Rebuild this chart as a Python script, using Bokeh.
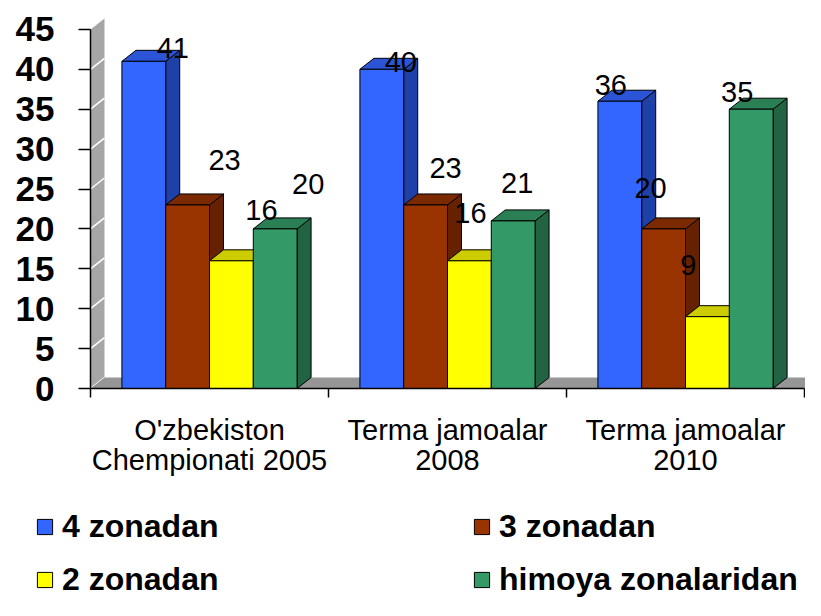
from bokeh.plotting import figure
from bokeh.models import Range1d, FixedTicker, Legend, LegendItem, ColumnDataSource
from bokeh.core.properties import value
from bokeh.embed import file_html
from bokeh.resources import INLINE

# ---------------- data ----------------
categories = ["O'zbekiston\nChempionati 2005", "Terma jamoalar\n2008", "Terma jamoalar\n2010"]
series_names = ["4 zonadan", "3 zonadan", "2 zonadan", "himoya zonalaridan"]
zone4 = [41, 40, 36]
zone3 = [23, 23, 20]
zone2 = [16, 16, 9]
defence = [20, 21, 35]
y_ticks = [0, 5, 10, 15, 20, 25, 30, 35, 40, 45]

series_values = [zone4, zone3, zone2, defence]

# ---------------- style ----------------
front_colors = ["#3366FF", "#993300", "#FFFF00", "#339966"]
top_colors = ["#2B55D6", "#7A2900", "#CCCC00", "#2A7F55"]
side_colors = ["#1F40A6", "#662200", "#999900", "#216343"]

# data-label nudges in screen pixels (Excel-like 3D label placement)
nudge_x = [[29, 19, -9], [37, 20, -13], [30, 1, -19], [33, 4, -14]]
nudge_y = [[-13, -7, -16], [-45, -37, -41], [-51, -48, -52], [-45, -38, -17]]

W, H = 805, 600
CAT_PX = 238.0
LEFT_PX = 90.0
UNIT_PX = 7.98
ZERO_PX = 388.0
FONT = "Liberation Sans"

p = figure(width=W, height=H,
           x_range=Range1d(-LEFT_PX / CAT_PX, (W - LEFT_PX) / CAT_PX),
           y_range=Range1d(-(H - ZERO_PX) / UNIT_PX, ZERO_PX / UNIT_PX),
           output_backend="svg", toolbar_location=None, min_border=0,
           outline_line_color=None, background_fill_color="white")
p.xgrid.visible = False
p.ygrid.visible = False

n_cat = len(categories)
ymax = y_ticks[-1]
dx = 14.0 / CAT_PX
dy = 11.0 / UNIT_PX
bw = 0.184

# side wall and floor
p.patch([0, dx, dx, 0], [0, dy, ymax + dy, ymax], fill_color="#A6A6A6", line_color=None)
p.segment(x0=[0] * (len(y_ticks) - 1), y0=y_ticks[:-1],
          x1=[dx] * (len(y_ticks) - 1), y1=[t + dy for t in y_ticks[:-1]],
          line_color="white", line_width=1.5)
p.patch([0, n_cat, n_cat + dx, dx], [0, 0, dy, dy], fill_color="#969696", line_color=None)

bar_renderers = []
lx, ly, lt, lxo, lyo = [], [], [], [], []
for s, vals in enumerate(series_values):
    xc = [i + 0.5 + (s - 1.5) * bw for i in range(n_cat)]
    x0 = [c - bw / 2 for c in xc]
    x1 = [c + bw / 2 for c in xc]
    side_xs = [[b, b + dx, b + dx, b] for b in x1]
    side_ys = [[0, dy, v + dy, v] for v in vals]
    top_xs = [[a, b, b + dx, a + dx] for a, b in zip(x0, x1)]
    top_ys = [[v, v, v + dy, v + dy] for v in vals]
    p.patches(side_xs, side_ys, fill_color=side_colors[s], line_color="black", line_width=1)
    p.patches(top_xs, top_ys, fill_color=top_colors[s], line_color="black", line_width=1)
    r = p.vbar(x=xc, width=bw, top=vals, bottom=0, fill_color=front_colors[s],
               line_color="black", line_width=1)
    bar_renderers.append(r)
    for i, v in enumerate(vals):
        lx.append(xc[i]); ly.append(v); lt.append(str(v))
        lxo.append(nudge_x[s][i]); lyo.append(nudge_y[s][i])

lab_src = ColumnDataSource(dict(x=lx, y=ly, text=lt, xo=lxo, yo=lyo))
p.text(x="x", y="y", text="text", x_offset="xo", y_offset="yo", source=lab_src,
       text_font=value(FONT), text_font_size=value("29px"), text_color="black",
       text_align="center", text_baseline="middle")

# y axis
ya = p.yaxis[0]
ya.ticker = FixedTicker(ticks=y_ticks)
ya.bounds = (0, ymax)
ya.fixed_location = 0
ya.major_tick_out = 12
ya.major_tick_in = 0
ya.minor_tick_out = 0
ya.minor_tick_in = 0
ya.axis_line_width = 1.5
ya.major_tick_line_width = 1.5
ya.major_label_standoff = 24
ya.major_label_text_font = FONT
ya.major_label_text_font_style = "bold"
ya.major_label_text_font_size = "35px"
ya.major_label_text_color = "black"

# x axis
xa = p.xaxis[0]
centers = [i + 0.5 for i in range(n_cat)]
xa.ticker = FixedTicker(ticks=centers, minor_ticks=list(range(n_cat + 1)))
xa.major_label_overrides = {c: lab for c, lab in zip(centers, categories)}
xa.bounds = (0, n_cat)
xa.fixed_location = 0
xa.major_tick_out = 0
xa.major_tick_in = 0
xa.minor_tick_out = 9
xa.minor_tick_in = 0
xa.minor_tick_line_color = "black"
xa.minor_tick_line_width = 1.5
xa.axis_line_width = 1.5
xa.major_label_standoff = 16
xa.major_label_text_font = FONT
xa.major_label_text_font_size = "29px"
xa.major_label_text_color = "black"
xa.major_label_text_line_height = 0.95

legend = Legend(items=[LegendItem(label=n, renderers=[r]) for n, r in zip(series_names, bar_renderers)],
                location=(35, 2), orientation="horizontal", ncols=2,
                glyph_width=19, glyph_height=19, label_standoff=8, label_width=394,
                spacing=16, padding=0, margin=0, border_line_color=None,
                background_fill_alpha=0, label_text_font=FONT, label_text_color="black",
                label_text_font_style="bold", label_text_font_size="32px")
p.add_layout(legend)

open("out.html", "w").write(file_html(p, INLINE))
